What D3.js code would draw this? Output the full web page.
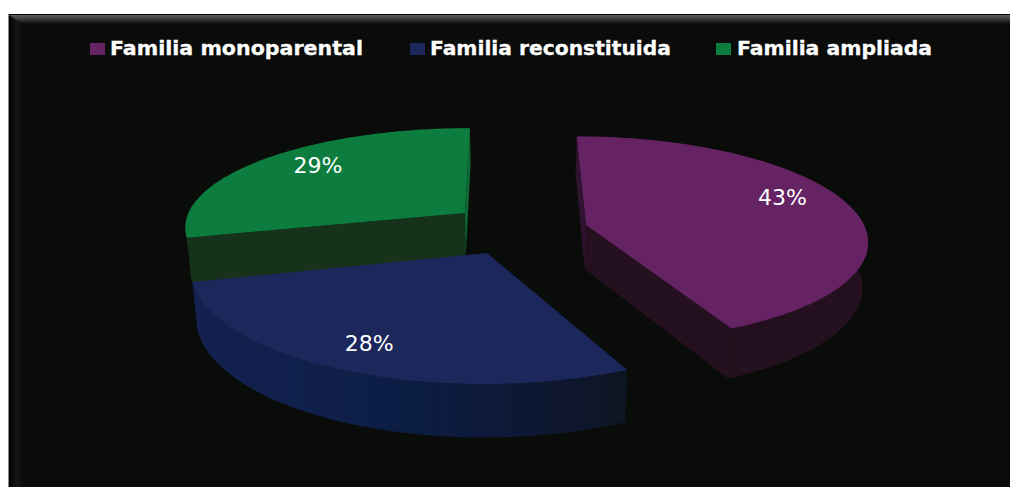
<!DOCTYPE html>
<html><head><meta charset="utf-8">
<script src="https://cdn.jsdelivr.net/npm/d3@7"></script>
<style>html,body{margin:0;padding:0;background:#fff;overflow:hidden}svg{display:block}</style>
</head><body><svg id="c" width="1010" height="487"></svg>
<script>
const categories = ["Familia monoparental", "Familia reconstituida", "Familia ampliada"];
const shares = [43, 28, 29];
const topColors = ["#652363", "#1c275c", "#0c7d3e"];
const sideColors = ["#25101f", "url(#blueSide)", "#17321a"];
const stripColors = ["#2e1230", "#111a3c", "#0e6633"];

// layout (screen anchor of each exploded wedge's apex, legend slots)
const apex = [[586, 225], [487, 253], [465, 213]];
const depth = [0.134, 0.139, 0.132];
const radius = [278, 282, 281];
const labelBearing = [68.7, 206.2, 312.8];
const labelRadius = [0.80, 0.80, 0.79];
const legendSwatchX = [90, 410, 716];
const legendTextX = [110, 430, 737];
const legendTextW = [253, 241, 195];

// ground-plane perspective
const VX = 508, VY = -525, REF = 750, DROP = 44, SHRINK = 0.984;
const toRad = Math.PI / 180;

const color = d3.scaleOrdinal(categories, topColors);
const side = d3.scaleOrdinal(categories, sideColors);
const strip = d3.scaleOrdinal(categories, stripColors);

function ground([sx, sy]) {
  const w = (sy - VY) / REF;
  return { x: (sx - VX) / w, z: 1 / w - 1 };
}
function project(c, k, R, a, r) {
  const cz = c.z + k * r * Math.cos(a);
  const w = 1 / (1 + cz);
  return { x: VX + (c.x + R * r * Math.sin(a)) * w, y: VY + REF * w, w };
}
const lower = p => ({ x: VX + (p.x - VX) * SHRINK, y: p.y + DROP * p.w, w: p.w });
const line = d3.line().x(d => d.x).y(d => d.y);
const closed = pts => line(pts) + "Z";

const svg = d3.select("#c");
const defs = svg.append("defs");

const grad = (id, attrs, stops) => {
  const g = defs.append("linearGradient").attr("id", id).attr("gradientUnits", "userSpaceOnUse");
  Object.entries(attrs).forEach(([k, v]) => g.attr(k, v));
  stops.forEach(([o, c]) => g.append("stop").attr("offset", o).attr("stop-color", c));
};
grad("blueSide", { x1: 190, x2: 627, y1: 0, y2: 0 },
  [[0, "#142150"], [0.25, "#10204c"], [0.5, "#0b1d43"], [0.75, "#0e1836"], [1, "#0e1623"]]);
grad("bevelTop", { x1: 0, x2: 0, y1: 15, y2: 24 },
  [[0, "#5c5e5c"], [0.45, "#3a3c3a"], [1, "#0a0c09"]]);
grad("bevelLeft", { x1: 9, x2: 22, y1: 0, y2: 0 },
  [[0, "#000000"], [0.3, "#0c0d0c"], [0.6, "#141614"], [1, "#0a0c09"]]);

// frame
svg.append("rect").attr("x", 8).attr("y", 14).attr("width", 1002).attr("height", 473).attr("fill", "#0a0c09");
svg.append("path").attr("d", "M9,15 L22,24 L22,487 L9,487Z").attr("fill", "url(#bevelLeft)");
svg.append("path").attr("d", "M9,15 L1010,15 L1010,24 L22,24Z").attr("fill", "url(#bevelTop)");
svg.append("rect").attr("x", 8).attr("y", 14).attr("width", 1002).attr("height", 1).attr("fill", "#000");
svg.append("rect").attr("x", 8).attr("y", 14).attr("width", 1).attr("height", 473).attr("fill", "#8a8a8a");

// wedges
const pie = d3.pie().sort(null).value(d => d)(shares);
const wedges = pie.map((d, i) => ({
  name: categories[i], share: d.value, a0: d.startAngle, a1: d.endAngle,
  c: ground(apex[i]), k: depth[i], R: radius[i], i
}));

// back to front: green, blue, purple
[2, 1, 0].forEach(i => {
  const w = wedges[i];
  const g = svg.append("g");
  const rim = d3.range(0, 121).map(t => project(w.c, w.k, w.R, w.a0 + (w.a1 - w.a0) * t / 120, 1));
  const centre = project(w.c, w.k, w.R, 0, 0);
  const first = rim[0], last = rim[rim.length - 1];
  const quad = p => closed([centre, p, lower(p), lower(centre)]);
  // outer wall
  g.append("path").attr("d", closed(rim.concat(rim.map(lower).reverse()))).attr("fill", side(w.name));
  // radial cut faces the viewer can see
  if (i === 0) {
    g.append("path").attr("d", quad(last)).attr("fill", side(w.name));
    g.append("path").attr("d", quad(first)).attr("fill", strip(w.name));
  }
  if (i === 2) {
    g.append("path").attr("d", quad(first)).attr("fill", side(w.name));
    g.append("path").attr("d", quad(last)).attr("fill", strip(w.name));
  }
  // top
  g.append("path").attr("d", closed([centre].concat(rim))).attr("fill", color(w.name));
});

// percent labels
wedges.forEach(w => {
  const p = project(w.c, w.k, w.R, labelBearing[w.i] * toRad, labelRadius[w.i]);
  svg.append("text").attr("x", p.x).attr("y", p.y + 8)
    .attr("text-anchor", "middle").attr("fill", "#fff")
    .attr("font-family", "'DejaVu Sans'").attr("font-size", 22)
    .text(w.share + "%");
});

// legend
categories.forEach((name, i) => {
  svg.append("rect").attr("x", legendSwatchX[i]).attr("y", 43).attr("width", 15).attr("height", 12)
    .attr("fill", color(name));
  svg.append("text").attr("x", legendTextX[i]).attr("y", 54.5)
    .attr("textLength", legendTextW[i]).attr("lengthAdjust", "spacingAndGlyphs")
    .attr("fill", "#fff").attr("stroke", "#fff").attr("stroke-width", 0.3)
    .attr("font-family", "'DejaVu Sans'").attr("font-weight", "bold")
    .attr("font-size", 19).text(name);
});
</script></body></html>
